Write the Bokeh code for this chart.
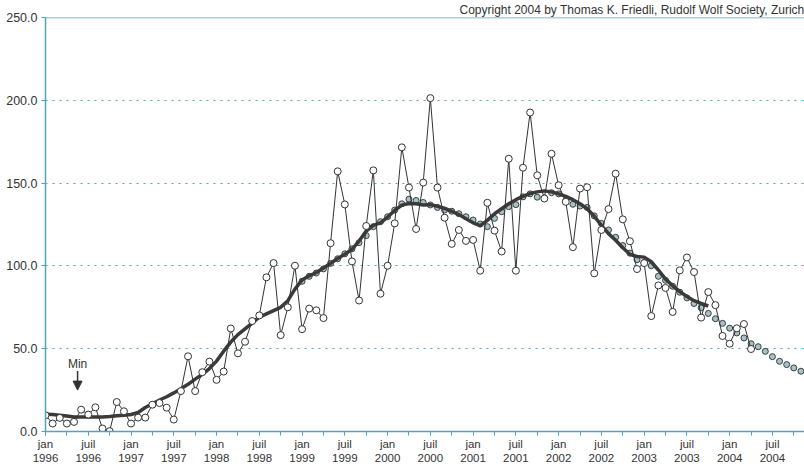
from bokeh.plotting import figure
from bokeh.models import (FixedTicker, NumeralTickFormatter, Range1d, Span, Label,
                          Arrow, NormalHead, ColumnDataSource)
from bokeh.embed import file_html
from bokeh.resources import INLINE

# ---------------- data (month index 0 = jan 1996) ----------------
first_year = 1996
period_names = ["jan", "juil"]

# monthly Wolf numbers, jan 1996 .. apr 2004
monthly = [
    9.8, 4.8, 8.2, 4.8, 5.8, 13.2, 10.2, 14.6, 1.8, 0.2, 17.8, 12.2,          # 1996
    4.8, 8.4, 8.4, 16.2, 17.2, 14.4, 7.2, 24.4, 45.4, 24.4, 35.8, 42.2,       # 1997
    31.2, 36.2, 62.2, 47.2, 54.2, 66.7, 70.1, 93.1, 101.7, 58.2, 75.0, 100.1, # 1998
    61.8, 74.2, 73.2, 68.5, 113.7, 157.1, 137.1, 102.7, 79.1, 124.1, 157.7, 83.2,   # 1999
    100.1, 125.7, 171.6, 147.3, 122.3, 150.3, 201.3, 147.3, 129.1, 113.3, 121.7, 115.1,  # 2000
    115.7, 97.1, 138.1, 121.3, 108.7, 164.7, 97.1, 159.3, 192.6, 154.7, 140.7, 167.7,    # 2001
    148.7, 138.7, 111.3, 146.7, 147.5, 95.5, 121.7, 134.3, 155.7, 128.1, 114.9, 98.1,    # 2002
    101.7, 69.7, 88.2, 86.7, 72.2, 97.3, 105.1, 96.3, 68.8, 84.2, 76.3, 57.7,            # 2003
    53.0, 62.3, 64.9, 49.8,                                                              # 2004
]

# smoothed curve, jan 1996 .. oct 2003
smoothed = [
    10.4, 10.2, 9.8, 9.3, 8.8, 8.7, 8.7, 8.7, 8.8, 9.0, 9.5, 9.8,
    10.3, 11.5, 14.5, 16.8, 19.0, 21.0, 23.3, 25.8, 28.5, 31.6, 34.5, 38.0,
    42.5, 48.5, 54.0, 58.5, 62.0, 65.5, 69.0, 71.0, 73.0, 75.0, 79.0, 86.0,
    91.5, 94.0, 96.0, 98.7, 101.5, 104.5, 107.0, 110.0, 115.0, 121.0, 124.5, 126.0,
    129.5, 133.5, 136.7, 137.7, 137.5, 136.8, 137.0, 136.0, 134.7, 133.0, 131.0, 128.5,
    126.0, 124.3, 127.5, 131.5, 134.5, 137.5, 140.0, 142.0, 143.7, 144.7, 145.3, 144.7,
    143.5, 142.0, 140.0, 137.5, 134.5, 130.0, 124.5, 119.5, 115.5, 111.0, 107.0, 105.7,
    105.3, 102.5, 97.5, 92.0, 88.0, 84.5, 81.5, 79.0, 77.3, 75.8,
]

# smoothed / predicted values shown as small circles, jan 1999 .. nov 2004
pred_start = 36
predicted = [
    90.7, 93.7, 95.7, 98.2, 101.5, 104.3, 107.3, 110.3, 114.0, 118.3, 123.7, 126.7,
    129.7, 133.7, 137.5, 140.3, 139.5, 138.3, 136.8, 135.3, 133.7, 133.0, 131.5, 129.7,
    127.7, 125.3, 123.7, 128.7, 132.7, 135.8, 137.0, 141.7, 143.5, 141.5, 141.0, 144.2,
    143.5, 139.4, 137.2, 136.1, 135.3, 130.2, 125.7, 121.7, 117.3, 112.3, 107.7, 103.7,
    102.1, 100.1, 93.7, 91.3, 87.7, 84.1, 80.7, 77.3, 74.7, 71.3, 68.1, 65.3,
    62.4, 59.5, 56.5, 53.0, 51.2, 48.4, 45.2, 42.4, 40.4, 38.4, 36.4,
]

y_ticks = [0, 50, 100, 150, 200, 250]
x_label_ticks = list(range(0, 107, 6))
x_minor_ticks = list(range(0, 107, 3))
x_labels = {t: f"{period_names[(t // 6) % 2]}\n{first_year + t // 12}" for t in x_label_ticks}
min_month = 4.5
copyright_text = "Copyright 2004 by Thomas K. Friedli, Rudolf Wolf Society, Zurich"

# ---------------- styling ----------------
TEAL = "#4fa6b6"
DARK = "#333333"
FONT = "Liberation Sans"
X_END = 106.5

src_raw = ColumnDataSource(dict(x=list(range(len(monthly))), y=monthly))
src_sm = ColumnDataSource(dict(x=list(range(len(smoothed))), y=smoothed))
src_pr = ColumnDataSource(dict(x=list(range(pred_start, pred_start + len(predicted))), y=predicted))

p = figure(width=804, height=466, output_backend="svg", toolbar_location=None,
           x_range=Range1d(0, X_END), y_range=Range1d(0, 250),
           title=copyright_text, title_location="above",
           min_border_left=45, min_border_right=0, min_border_top=16, min_border_bottom=33)
p.title.align = "right"
p.title.text_font = FONT
p.title.text_font_size = "12px"
p.title.text_font_style = "normal"
p.title.text_color = DARK
p.title.standoff = 1
p.title.offset = 0
p.outline_line_color = None
p.background_fill_color = "white"
p.border_fill_color = "white"

# grid
p.xgrid.visible = False
p.ygrid.ticker = FixedTicker(ticks=[50, 100, 150, 200])
p.ygrid.grid_line_color = TEAL
p.ygrid.grid_line_dash = "2 5"
p.ygrid.grid_line_width = 1
p.add_layout(Span(location=250, dimension="width", line_color=TEAL, line_width=1.5))

# axes
p.yaxis.ticker = FixedTicker(ticks=y_ticks)
p.yaxis.formatter = NumeralTickFormatter(format="0.0")
p.xaxis.ticker = FixedTicker(ticks=x_label_ticks, minor_ticks=x_minor_ticks)
p.xaxis.major_label_overrides = x_labels
for ax in (p.xaxis, p.yaxis):
    ax.axis_line_color = TEAL
    ax.axis_line_width = 1.5
    ax.major_tick_line_color = TEAL
    ax.minor_tick_line_color = TEAL
    ax.major_tick_in = 0
    ax.major_tick_out = 4
    ax.minor_tick_in = 0
    ax.minor_tick_out = 4
    ax.major_label_text_color = DARK
    ax.major_label_text_font = FONT
p.yaxis.minor_tick_line_color = None
p.yaxis.major_label_text_font_size = "12.5px"
p.yaxis.major_label_standoff = 4
p.xaxis.major_label_text_font_size = "11.5px"
p.xaxis.major_label_standoff = 2

# series
p.scatter("x", "y", source=src_pr, size=6, fill_color="#a3c3c6", line_color="#3d3d3d", line_width=1)
p.line("x", "y", source=src_sm, line_color="#3a3a3a", line_width=3.5, line_join="round")
p.line("x", "y", source=src_raw, line_color=DARK, line_width=1)
p.scatter("x", "y", source=src_raw, size=7, fill_color="white", line_color=DARK, line_width=1)

# annotations
p.add_layout(Label(x=min_month, y=40.5, text="Min", text_align="center", text_baseline="alphabetic",
                   text_font=FONT, text_font_size="12px", text_color=DARK))
p.add_layout(Arrow(x_start=min_month, y_start=36.5, x_end=min_month, y_end=25,
                   line_color=DARK, line_width=1.5,
                   end=NormalHead(size=9, fill_color=DARK, line_color=DARK)))

open("out.html", "w").write(file_html(p, INLINE))
